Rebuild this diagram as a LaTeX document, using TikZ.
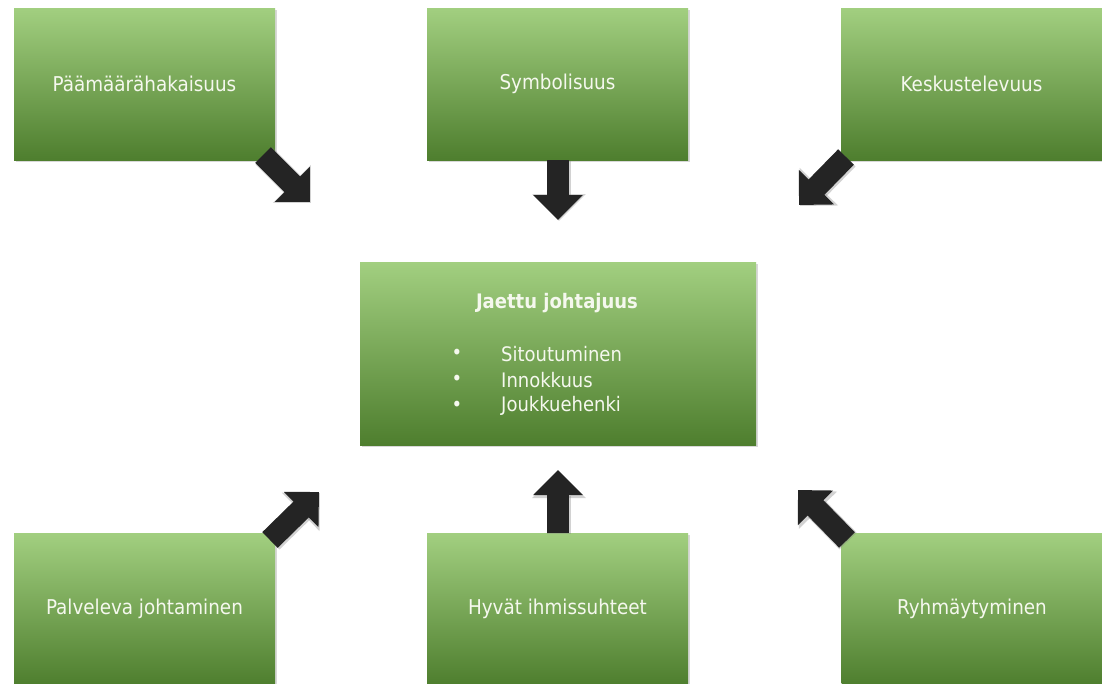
\documentclass[tikz,border=0pt]{standalone}
\usepackage{fontspec}
\setmainfont{DejaVu Sans Condensed}
\usetikzlibrary{arrows.meta,shadows}
\definecolor{gtop}{RGB}{162,207,128}
\definecolor{gmid}{RGB}{114,180,64}
\definecolor{gbot}{RGB}{78,126,46}
\definecolor{arrc}{RGB}{36,36,36}
\definecolor{txtc}{RGB}{245,248,238}
\begin{document}
\begin{tikzpicture}[x=1pt,y=-1pt,
  gbox/.style={rectangle, inner sep=0pt, minimum width=261pt, minimum height=152pt,
    top color=gtop, middle color=gmid, bottom color=gbot,
    drop shadow={opacity=0.3, shadow xshift=1.5pt, shadow yshift=-1.5pt},
    font=\fontsize{20.4}{24}\selectfont, text=txtc},
  cbox/.style={gbox, minimum width=396pt, minimum height=183pt},
  ctext/.style={inner sep=0pt, font=\fontsize{20}{24}\selectfont, text=txtc},
  arrshadow/.style={draw=black!50, opacity=0.35, line width=24pt,
    -{Triangle[length=27pt, width=52pt, fill=black!50]}},
  blockarrow/.style={draw=arrc, line width=22pt,
    -{Triangle[length=25pt, width=48pt, fill=arrc]}}
]
\useasboundingbox (0,0) rectangle (1102,683);
\clip (0,0) rectangle (1102,683);
\fill[white] (0,0) rectangle (1102,683);

% outer boxes
\node[gbox] (tl) at (144.5,84) {Päämäärähakaisuus};
\node[gbox] (tm) at (557.5,84) {Symbolisuus};
\node[gbox] (tr) at (971.5,84) {Keskustelevuus};
\node[gbox] (bl) at (144.5,609) {Palveleva johtaminen};
\node[gbox] (bm) at (557.5,609) {Hyvät ihmissuhteet};
\node[gbox] (br) at (972,609) {Ryhmäytyminen};

% centre box
\node[cbox] (c) at (558,353.5) {};
\node[ctext, font=\fontsize{20}{24}\selectfont\bfseries] (ct) at (557,303) {Jaettu johtajuus};
\node[ctext] (b1) at (457,354) {•};
\node[ctext] (b2) at (457,380) {•};
\node[ctext] (b3) at (457,406) {•};
\node[ctext, anchor=west] (i1) at (501,354) {Sitoutuminen};
\node[ctext, anchor=west] (i2) at (501,380) {Innokkuus};
\node[ctext, anchor=west] (i3) at (501,406) {Joukkuehenki};

% arrow end points
\coordinate (a1s) at (263,155);  \coordinate (a1e) at (310,202);
\coordinate (a2s) at (558,160);  \coordinate (a2e) at (558,220);
\coordinate (a3s) at (846,157);  \coordinate (a3e) at (799,205);
\coordinate (a4s) at (270,540);  \coordinate (a4e) at (319,492);
\coordinate (a5s) at (558,533);  \coordinate (a5e) at (558,470);
\coordinate (a6s) at (847,540);  \coordinate (a6e) at (798,490);

\foreach \a in {1,...,6}{
  \draw[arrshadow, transform canvas={shift={(1pt,-1pt)}}] (a\a s) -- (a\a e);
  \draw[blockarrow] (a\a s) -- (a\a e);
}
\end{tikzpicture}
\end{document}
